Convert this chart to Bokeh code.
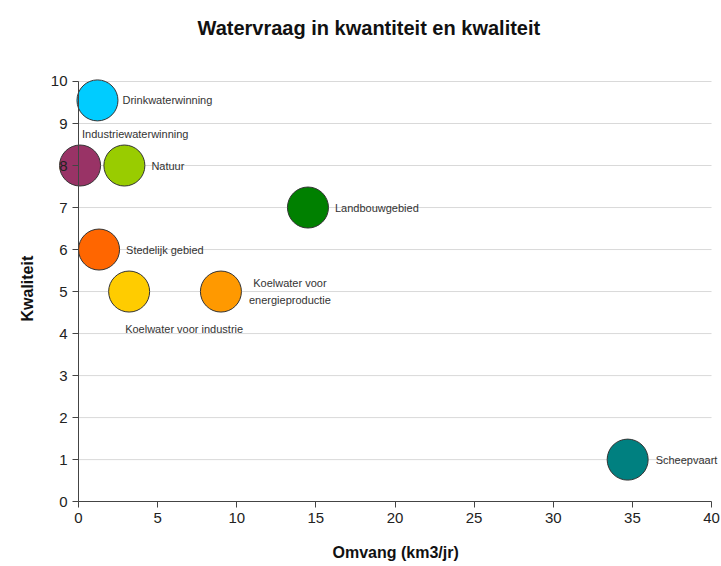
from bokeh.plotting import figure
from bokeh.models import Range1d, ColumnDataSource, FixedTicker, Title
from bokeh.core.properties import value
from bokeh.embed import file_html
from bokeh.resources import INLINE

# data
names = ["Drinkwaterwinning", "Industriewaterwinning", "Natuur", "Landbouwgebied",
         "Stedelijk gebied", "Koelwater voor industrie", "Koelwater voor\nenergieproductie",
         "Scheepvaart"]
omvang = [1.2, 0.1, 2.9, 14.5, 1.3, 3.2, 9.0, 34.7]
kwaliteit = [9.55, 8.0, 8.0, 7.0, 6.0, 5.0, 5.0, 1.0]
colors = ["#00CCFF", "#993366", "#99CC00", "#008000", "#FF6600", "#FFCC00", "#FF9900", "#008080"]
x_ticks = [0, 5, 10, 15, 20, 25, 30, 35, 40]
y_ticks = [0, 1, 2, 3, 4, 5, 6, 7, 8, 9, 10]

# label placement (screen px offsets from bubble centre)
lab_dx = [25, 2, 27, 27, 27, -4, 69, 28]
lab_dy = [0, -32, 0, 0, 0, 37, 0, 0]
lab_align = ["left", "left", "left", "left", "left", "left", "center", "left"]

font = "Liberation Sans"

p = figure(width=721, height=566, output_backend="svg", toolbar_location=None,
           x_range=Range1d(-2.40, 40.63), y_range=Range1d(-0.83, 10.69),
           min_border_left=40, min_border_right=0, min_border_top=0, min_border_bottom=30)
p.outline_line_color = None
p.xgrid.visible = False
p.ygrid.visible = False

main_title = Title(text="Watervraag in kwantiteit en kwaliteit", align="left", offset=157,
                   standoff=28, text_font=font, text_font_size="20px",
                   text_font_style="bold", text_color="#111111")
p.add_layout(main_title, "above")

# horizontal gridlines
p.segment(x0=[x_ticks[0]] * (len(y_ticks) - 1), x1=[x_ticks[-1]] * (len(y_ticks) - 1),
          y0=y_ticks[1:], y1=y_ticks[1:], line_color="#d9d9d9", line_width=1)

for ax in (p.xaxis[0], p.yaxis[0]):
    ax.axis_line_color = "#444444"
    ax.major_tick_line_color = "#444444"
    ax.major_tick_out = 6
    ax.major_tick_in = 0
    ax.minor_tick_line_color = None
    ax.major_label_text_font = font
    ax.major_label_text_font_size = "15px"
    ax.major_label_text_color = "#222222"
    ax.fixed_location = 0

p.xaxis.ticker = FixedTicker(ticks=x_ticks)
p.yaxis.ticker = FixedTicker(ticks=y_ticks)
p.xaxis.bounds = (x_ticks[0], x_ticks[-1])
p.yaxis.bounds = (y_ticks[0], y_ticks[-1])

for txt, side, off in (("Kwaliteit", "left", 215), ("Omvang (km3/jr)", "below", 292)):
    t = Title(text=txt, align="left", offset=off, text_font=font, text_font_size="16px",
              text_font_style="bold", text_color="#111111")
    p.add_layout(t, side)

src = ColumnDataSource(dict(x=omvang, y=kwaliteit, c=colors, n=names,
                            dx=lab_dx, dy=lab_dy, al=lab_align))
p.scatter(x="x", y="y", source=src, size=41, fill_color="c", line_color="#333333", line_width=1)
p.text(x="x", y="y", text="n", source=src, x_offset="dx", y_offset="dy", text_align="al",
       text_baseline="middle", text_font=value(font), text_font_size="11px",
       text_color="#333333", text_line_height=1.35)

open("out.html", "w").write(file_html(p, INLINE))
